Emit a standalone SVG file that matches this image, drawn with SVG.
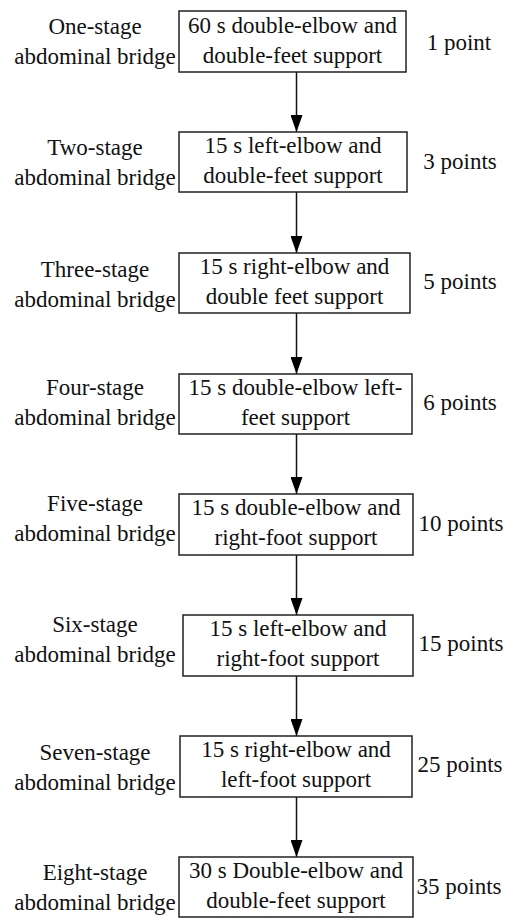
<svg xmlns="http://www.w3.org/2000/svg" width="505" height="918" viewBox="0 0 505 918" font-family="Liberation Serif, Times New Roman, serif">
<style>
text{font-size:23px;fill:#111;text-anchor:middle}
.box{fill:#fff;stroke:#222;stroke-width:1.5}
.arr{stroke:#111;stroke-width:1.5;fill:none;marker-end:url(#ah)}
</style>
<defs>
<marker id="ah" markerUnits="userSpaceOnUse" markerWidth="17" markerHeight="12" refX="17" refY="6" orient="auto" viewBox="0 0 17 12">
<path d="M0,0 L17,6 L0,12 Z" fill="#000"/>
</marker>
</defs>
<rect width="505" height="918" fill="#fff"/>
<g id="connectors">
<line class="arr" x1="296.5" y1="72" x2="296.5" y2="132"/>
<line class="arr" x1="296.5" y1="192" x2="296.5" y2="253"/>
<line class="arr" x1="296.5" y1="313" x2="296.5" y2="374"/>
<line class="arr" x1="296.5" y1="434" x2="296.5" y2="494"/>
<line class="arr" x1="296.5" y1="555" x2="296.5" y2="615"/>
<line class="arr" x1="296.5" y1="676" x2="296.5" y2="736"/>
<line class="arr" x1="296.5" y1="797" x2="296.5" y2="857"/>
</g>
<g id="node1">
<rect class="box" x="179" y="11" width="227" height="61"/>
<text x="292.5" y="33">60 s double-elbow and</text>
<text x="292.5" y="63">double-feet support</text>
<text x="95" y="34">One-stage</text>
<text x="95" y="64">abdominal bridge</text>
<text x="459" y="50">1 point</text>
</g>
<g id="node2">
<rect class="box" x="179" y="132" width="228" height="60"/>
<text x="293" y="153">15 s left-elbow and</text>
<text x="293" y="183">double-feet support</text>
<text x="95" y="155">Two-stage</text>
<text x="95" y="185">abdominal bridge</text>
<text x="460" y="169">3 points</text>
</g>
<g id="node3">
<rect class="box" x="179" y="253" width="231" height="60"/>
<text x="294.5" y="274">15 s right-elbow and</text>
<text x="294.5" y="304">double feet support</text>
<text x="95" y="277">Three-stage</text>
<text x="95" y="307">abdominal bridge</text>
<text x="460" y="289">5 points</text>
</g>
<g id="node4">
<rect class="box" x="179" y="374" width="233" height="60"/>
<text x="295.5" y="395">15 s double-elbow left-</text>
<text x="295.5" y="425">feet support</text>
<text x="95" y="395">Four-stage</text>
<text x="95" y="425">abdominal bridge</text>
<text x="460" y="410">6 points</text>
</g>
<g id="node5">
<rect class="box" x="179" y="494" width="234" height="61"/>
<text x="296" y="515">15 s double-elbow and</text>
<text x="296" y="545">right-foot support</text>
<text x="95" y="511">Five-stage</text>
<text x="95" y="541">abdominal bridge</text>
<text x="461" y="531">10 points</text>
</g>
<g id="node6">
<rect class="box" x="183" y="615" width="230" height="61"/>
<text x="298" y="636">15 s left-elbow and</text>
<text x="298" y="666">right-foot support</text>
<text x="95" y="632">Six-stage</text>
<text x="95" y="662">abdominal bridge</text>
<text x="461" y="651">15 points</text>
</g>
<g id="node7">
<rect class="box" x="180" y="736" width="232" height="61"/>
<text x="296" y="757">15 s right-elbow and</text>
<text x="296" y="787">left-foot support</text>
<text x="95" y="760">Seven-stage</text>
<text x="95" y="790">abdominal bridge</text>
<text x="460" y="772">25 points</text>
</g>
<g id="node8">
<rect class="box" x="179" y="857" width="234" height="60"/>
<text x="296" y="878">30 s Double-elbow and</text>
<text x="296" y="908">double-feet support</text>
<text x="95" y="880">Eight-stage</text>
<text x="95" y="910">abdominal bridge</text>
<text x="459" y="894">35 points</text>
</g>
</svg>
